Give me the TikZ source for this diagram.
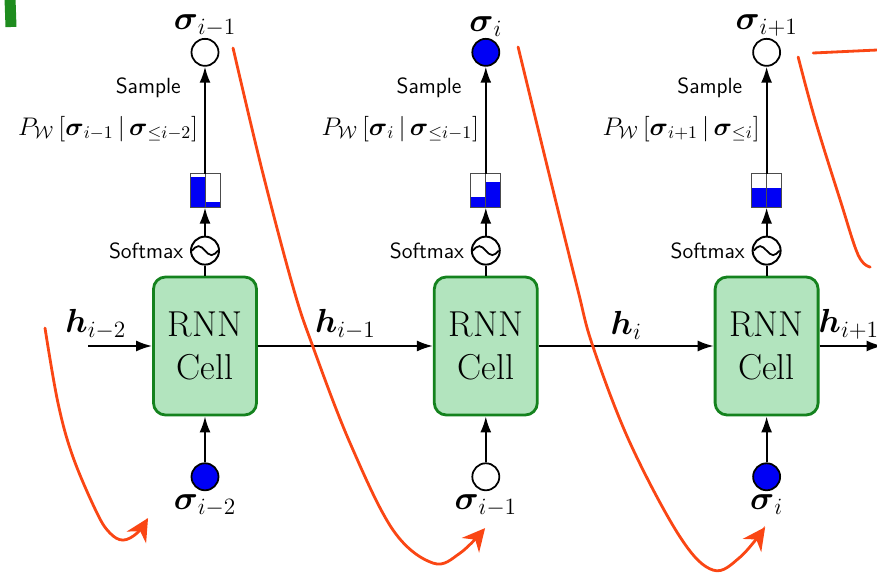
\RequirePackage{fix-cm}
\documentclass[tikz,border=0pt]{standalone}
\usepackage{amsmath, amssymb}
\usepackage{tikz}
\usetikzlibrary{arrows.meta, positioning, calc}
\definecolor{cellfill}{RGB}{178, 228, 190}
\definecolor{cellline}{RGB}{20, 130, 30}
\definecolor{spinblue}{RGB}{0, 0, 245}
\definecolor{penred}{RGB}{250, 70, 20}
\definecolor{pengreen}{RGB}{30, 140, 30}
\newcommand{\sig}[1]{\boldsymbol{\sigma}_{#1}}
\newcommand{\hid}[1]{\boldsymbol{h}_{#1}}
\newcommand{\bars}[3]{%
  \fill[spinblue] (#1.south west) rectangle ($(#1.south)!#2!(#1.north)$);
  \fill[spinblue] (#1.south) rectangle ($(#1.south east)!#3!(#1.north east)$);
  \draw[line width=0.5pt, black!70] (#1.south west) rectangle (#1.north east);
  \draw[line width=0.5pt, black!70] (#1.south) -- (#1.north);}

\begin{document}
\begin{tikzpicture}[>={Latex[length=3.2mm, width=2.2mm]}, line width=1.1pt,
    every node/.style={align=center},
    cell/.style={draw=cellline, line width=1.6pt, rounded corners=0.24cm,
      fill=cellfill, minimum width=2.06cm, minimum height=2.76cm,
      font=\fontsize{20.5}{24}\selectfont},
    spin/.style={circle, draw, line width=1pt, minimum size=0.54cm, inner sep=0pt},
    spinup/.style={spin, fill=spinblue},
    spindown/.style={spin, fill=white},
    softmax/.style={circle, draw, line width=1.1pt, minimum size=0.56cm, inner sep=0pt,
      path picture={\draw[line width=1pt] ([xshift=-0.26cm]path picture bounding box.center)
        sin ++(0.13cm,0.09cm) cos ++(0.13cm,-0.09cm) sin ++(0.13cm,-0.09cm) cos ++(0.13cm,0.09cm);}},
    histo/.style={rectangle, minimum width=0.56cm, minimum height=0.64cm, inner sep=0pt},
    lbl/.style={font=\fontsize{19}{22}\selectfont},
    smalltext/.style={font=\fontsize{12.5}{15}\selectfont\sffamily},
    prob/.style={font=\fontsize{14.5}{16}\selectfont},
    penstroke/.style={penred, line width=1.6pt, line cap=round}]
  \useasboundingbox (0,0) rectangle (17.54,-11.5);

  % cells
  \node[cell] (c1) at (4.1,-6.92) {RNN\\Cell};
  \node[cell, right=3.5cm of c1] (c2) {RNN\\Cell};
  \node[cell, right=3.5cm of c2] (c3) {RNN\\Cell};

  % output stacks
  \node[softmax, above=0.2cm of c1] (s1) {};
  \node[histo, above=0.56cm of s1] (p1) {};
  \node[spindown, above=2.14cm of p1] (o1) {};
  \node[softmax, above=0.2cm of c2] (s2) {};
  \node[histo, above=0.56cm of s2] (p2) {};
  \node[spinup, above=2.14cm of p2] (o2) {};
  \node[softmax, above=0.2cm of c3] (s3) {};
  \node[histo, above=0.56cm of s3] (p3) {};
  \node[spindown, above=2.14cm of p3] (o3) {};

  \bars{p1}{0.9}{0.18}
  \bars{p2}{0.3}{0.75}
  \bars{p3}{0.58}{0.58}

  \node[lbl, above=-3pt of o1] {$\sig{i-1}$};
  \node[lbl, above=-3pt of o2] {$\sig{i}$};
  \node[lbl, above=-3pt of o3] {$\sig{i+1}$};
  \node[smalltext, left=0pt of s1] {Softmax};
  \node[smalltext, left=0pt of s2] {Softmax};
  \node[smalltext, left=0pt of s3] {Softmax};

  % input spins
  \node[spinup, below=0.92cm of c1] (x1) {};
  \node[spindown, below=0.92cm of c2] (x2) {};
  \node[spinup, below=0.92cm of c3] (x3) {};
  \node[lbl, below=-2pt of x1] {$\sig{i-2}$};
  \node[lbl, below=-2pt of x2] {$\sig{i-1}$};
  \node[lbl, below=-2pt of x3] {$\sig{i}$};

  \draw (c1) -- (s1);
  \draw (c2) -- (s2);
  \draw (c3) -- (s3);
  \draw[->] (s1) -- (p1);
  \draw[->] (s2) -- (p2);
  \draw[->] (s3) -- (p3);
  \draw[->] (p1) -- node[pos=0.8, smalltext, left=0.35cm]{Sample}
    node[pos=0.42, prob, left]{$P_{\mathcal W}\left[\sig{i-1}\,\middle|\,\sig{\le i-2}\right]$} (o1);
  \draw[->] (p2) -- node[pos=0.8, smalltext, left=0.35cm]{Sample}
    node[pos=0.42, prob, left]{$P_{\mathcal W}\left[\sig{i}\,\middle|\,\sig{\le i-1}\right]$} (o2);
  \draw[->] (p3) -- node[pos=0.8, smalltext, left=0.35cm]{Sample}
    node[pos=0.42, prob, left]{$P_{\mathcal W}\left[\sig{i+1}\,\middle|\,\sig{\le i}\right]$} (o3);
  \draw[->] (x1) -- (c1);
  \draw[->] (x2) -- (c2);
  \draw[->] (x3) -- (c3);

  % hidden states
  \coordinate[left=1.28cm of c1] (hin);
  \coordinate[right=1.26cm of c3] (hout);
  \draw[->] (hin) -- node[lbl, above, pos=0.12]{$\hid{i-2}$} (c1);
  \draw[->] (c1) -- node[lbl, above]{$\hid{i-1}$} (c2);
  \draw[->] (c2) -- node[lbl, above]{$\hid{i}$} (c3);
  \draw[->] (c3) -- node[lbl, pos=0, anchor=south west, xshift=-2pt, inner xsep=1pt]{$\hid{i+1}$} (hout);

  % pen marks
  \begin{scope}[x=0.02cm, y=-0.02cm]
    \draw[pengreen, line width=0.22cm] (10,-2) -- (11,27);
    \draw[penstroke, -{Stealth[length=4.5mm, width=4.5mm]}] plot[smooth, tension=0.6]
      coordinates {(45,328) (58,403) (73,457) (97,513) (110,533) (123,540) (137,533) (148,518)};
    \draw[penstroke, -{Stealth[length=4.5mm, width=4.5mm]}] plot[smooth, tension=0.6]
      coordinates {(233,48) (262,170) (293,287) (313,347) (350,443) (393,530) (433,563) (460,553) (485,528)};
    \draw[penstroke, -{Stealth[length=4.5mm, width=4.5mm]}] plot[smooth, tension=0.6]
      coordinates {(518,47) (548,170) (577,287) (593,347) (630,443) (680,537) (713,570) (740,557) (765,527)};
    \draw[penstroke] plot[smooth, tension=0.6]
      coordinates {(798,57) (815,120) (840,200) (858,255) (870,267)};
    \draw[penstroke] (813,53) -- (877,50);
  \end{scope}
\end{tikzpicture}
\end{document}
